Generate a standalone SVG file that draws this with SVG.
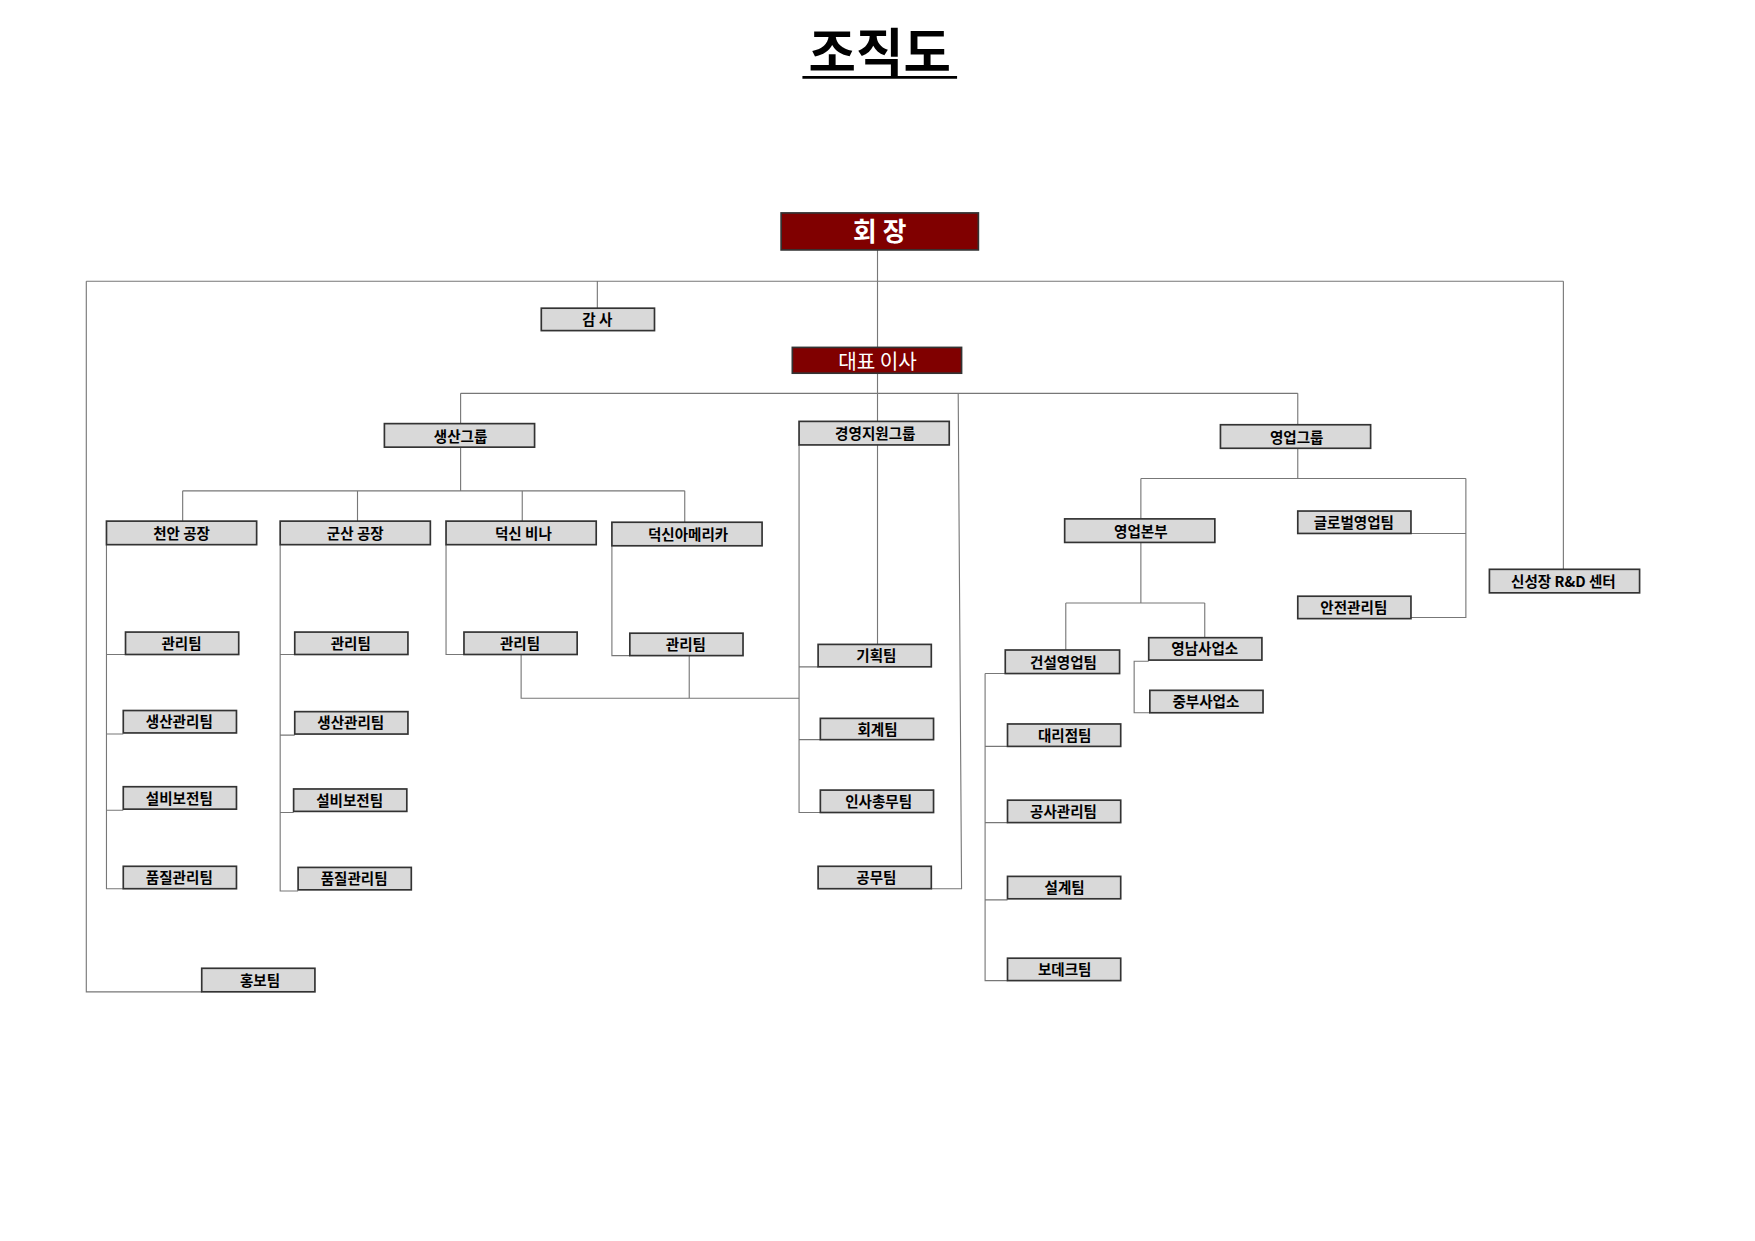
<svg xmlns="http://www.w3.org/2000/svg" width="1755" height="1241" viewBox="0 0 1755 1241">
<style>
.b{fill:#d9d9d9;stroke:#333;stroke-width:1.5}
.r{fill:#800000;stroke:#333;stroke-width:1.5}
text{font-family:"Noto Sans CJK KR","Noto Sans",sans-serif;font-weight:bold;text-anchor:middle;fill:#000}
.t{font-size:13px}
.w{fill:#fff}
.c path{fill:none;stroke:#777;stroke-width:1}
</style>
<rect width="1755" height="1241" fill="#fff"/>
<g transform="scale(1.1207)">
<g id="title"><text x="785" y="63" style="font-size:46px">조직도</text><line x1="716" y1="69" x2="854" y2="69" stroke="#000" stroke-width="2.5"/></g>
<g class="c">
<path d="M783 223V310M77 251H1395M77 251V885H180M533 251V275M1395 251V508"/>
<path d="M783 333V376M411 351H1158M411 351V378M1158 351V379M855 351L858 793H831"/>
<path d="M411 399V438M163 438H611M163 438V465M319 438V465M466 438V465M611 438V466"/>
<path d="M95 486V793H110M95 584H112M95 655H110M95 723H110"/>
<path d="M250 486V795H266M250 584H263M250 656H263M250 725H262"/>
<path d="M398 486V584H414M546 487V585H562M465 584V623H713M615 585V623"/>
<path d="M713 397V725H732M783 397V575M713 595H730M713 660H732"/>
<path d="M1158 400V427M1018 427H1308M1018 427V463M1308 427V551H1259M1259 476H1308"/>
<path d="M1018 484V538M951 538H1075M951 538V580M1075 538V569M1025 590H1012V636H1026"/>
<path d="M879 601V875H899M879 601H897M879 666H899M879 734H899M879 803H899"/>
</g>
<g id="n1"><rect class="r" x="697" y="190" width="176" height="33"/><text class="w" x="785" y="215" style="font-size:23px">회    장</text></g>
<g id="n2"><rect class="b" x="483" y="275" width="101" height="20"/><text class="t" x="533" y="290">감 사</text></g>
<g id="n3"><rect class="r" x="707" y="310" width="151" height="23"/><text class="w" x="783" y="329" style="font-size:18px;font-weight:normal">대표 이사</text></g>
<g id="n4"><rect class="b" x="343" y="378" width="134" height="21"/><text class="t" x="411" y="394">생산그룹</text></g>
<g id="n5"><rect class="b" x="713" y="376" width="134" height="21"/><text class="t" x="781" y="392">경영지원그룹</text></g>
<g id="n6"><rect class="b" x="1089" y="379" width="134" height="21"/><text class="t" x="1157" y="395">영업그룹</text></g>
<g id="n7"><rect class="b" x="95" y="465" width="134" height="21"/><text class="t" x="162" y="481">천안 공장</text></g>
<g id="n8"><rect class="b" x="250" y="465" width="134" height="21"/><text class="t" x="317" y="481">군산 공장</text></g>
<g id="n9"><rect class="b" x="398" y="465" width="134" height="21"/><text class="t" x="467" y="481">덕신 비나</text></g>
<g id="n10"><rect class="b" x="546" y="466" width="134" height="21"/><text class="t" x="614" y="482">덕신아메리카</text></g>
<g id="n11"><rect class="b" x="112" y="564" width="101" height="20"/><text class="t" x="162" y="579">관리팀</text></g>
<g id="n12"><rect class="b" x="110" y="634" width="101" height="20"/><text class="t" x="160" y="649">생산관리팀</text></g>
<g id="n13"><rect class="b" x="110" y="702" width="101" height="20"/><text class="t" x="160" y="717">설비보전팀</text></g>
<g id="n14"><rect class="b" x="110" y="773" width="101" height="20"/><text class="t" x="160" y="788">품질관리팀</text></g>
<g id="n15"><rect class="b" x="263" y="564" width="101" height="20"/><text class="t" x="313" y="579">관리팀</text></g>
<g id="n16"><rect class="b" x="263" y="635" width="101" height="20"/><text class="t" x="313" y="650">생산관리팀</text></g>
<g id="n17"><rect class="b" x="262" y="704" width="101" height="20"/><text class="t" x="312" y="719">설비보전팀</text></g>
<g id="n18"><rect class="b" x="266" y="774" width="101" height="20"/><text class="t" x="316" y="789">품질관리팀</text></g>
<g id="n19"><rect class="b" x="414" y="564" width="101" height="20"/><text class="t" x="464" y="579">관리팀</text></g>
<g id="n20"><rect class="b" x="562" y="565" width="101" height="20"/><text class="t" x="612" y="580">관리팀</text></g>
<g id="n21"><rect class="b" x="730" y="575" width="101" height="20"/><text class="t" x="782" y="590">기획팀</text></g>
<g id="n22"><rect class="b" x="732" y="641" width="101" height="19"/><text class="t" x="783" y="656">회계팀</text></g>
<g id="n23"><rect class="b" x="732" y="705" width="101" height="20"/><text class="t" x="784" y="720">인사총무팀</text></g>
<g id="n24"><rect class="b" x="730" y="773" width="101" height="20"/><text class="t" x="782" y="788">공무팀</text></g>
<g id="n25"><rect class="b" x="950" y="463" width="134" height="21"/><text class="t" x="1018" y="479">영업본부</text></g>
<g id="n26"><rect class="b" x="1158" y="456" width="101" height="20"/><text class="t" x="1208" y="471">글로벌영업팀</text></g>
<g id="n27"><rect class="b" x="1158" y="532" width="101" height="20"/><text class="t" x="1208" y="547">안전관리팀</text></g>
<g id="n28"><rect class="b" x="1329" y="508" width="134" height="21"/><text class="t" x="1395" y="524">신성장 R&amp;D 센터</text></g>
<g id="n29"><rect class="b" x="897" y="580" width="102" height="21"/><text class="t" x="949" y="596">건설영업팀</text></g>
<g id="n30"><rect class="b" x="1025" y="569" width="101" height="20"/><text class="t" x="1075" y="584">영남사업소</text></g>
<g id="n31"><rect class="b" x="1026" y="616" width="101" height="20"/><text class="t" x="1076" y="631">중부사업소</text></g>
<g id="n32"><rect class="b" x="899" y="646" width="101" height="20"/><text class="t" x="950" y="661">대리점팀</text></g>
<g id="n33"><rect class="b" x="899" y="714" width="101" height="20"/><text class="t" x="949" y="729">공사관리팀</text></g>
<g id="n34"><rect class="b" x="899" y="782" width="101" height="20"/><text class="t" x="950" y="797">설계팀</text></g>
<g id="n35"><rect class="b" x="899" y="855" width="101" height="20"/><text class="t" x="950" y="870">보데크팀</text></g>
<g id="n36"><rect class="b" x="180" y="864" width="101" height="21"/><text class="t" x="232" y="880">홍보팀</text></g>
</g>
</svg>
